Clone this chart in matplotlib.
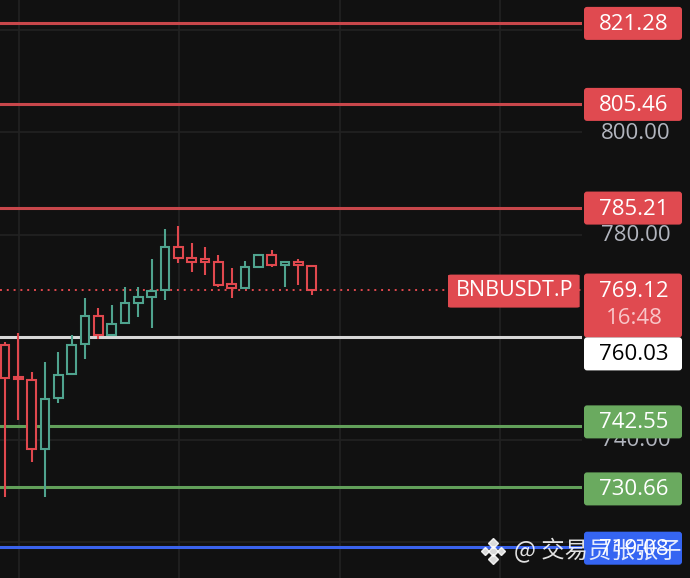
import matplotlib
matplotlib.use('Agg')
import matplotlib.pyplot as plt
from matplotlib.patches import Rectangle, FancyBboxPatch
from matplotlib.transforms import blended_transform_factory

# ---- data ----
opens  = [758.47, 752.20, 751.63, 738.10, 748.06, 752.80, 758.66, 764.19, 760.42, 762.71, 766.73, 767.78,
          769.21, 777.67, 775.52, 775.20, 774.62, 770.38, 769.66, 773.76, 776.05, 774.10, 774.74, 773.90]
highs  = [759.11, 760.75, 753.25, 755.20, 757.04, 760.42, 767.59, 765.63, 766.28, 769.85, 769.85, 775.26,
          781.12, 781.71, 778.33, 777.55, 776.05, 773.45, 774.93, 776.20, 777.02, 774.90, 775.20, 774.10]
lows   = [728.84, 743.82, 735.67, 728.72, 747.08, 752.80, 755.67, 759.64, 760.42, 762.71, 763.99, 761.73,
          767.26, 774.54, 772.78, 772.14, 769.85, 767.59, 769.66, 773.60, 773.76, 769.85, 770.18, 768.23]
closes = [751.96, 751.90, 738.10, 747.92, 752.61, 758.47, 764.19, 760.42, 762.57, 766.61, 767.78, 769.07,
          777.67, 775.40, 774.74, 774.74, 770.18, 769.66, 773.76, 776.05, 774.10, 774.74, 774.10, 769.12]

resist_levels = [821.28, 805.46, 785.21]
pivot_level = 760.03
support_levels = [742.55, 730.66]
low_level = 719.08
last_price = 769.12
countdown = '16:48'
symbol = 'BNBUSDT.P'
axis_ticks = [820, 800, 780, 760, 740, 720]
watermark = '@ 交易员张张子'

# ---- style ----
BG = '#111111'
GRID = '#222222'
UP = '#4fa38e'
DOWN = '#e0484e'
RED_LINE = '#c8474b'
RED_TAG = '#e04a50'
GREEN_LINE = '#62a05a'
GREEN_TAG = '#6aaa5f'
BLUE_LINE = '#3a63ee'
BLUE_TAG = '#3565f2'
FONT = 'Open Sans'

W, H = 690, 578
PX = 5.12                      # pixels per price unit
y_top = 760.03 + 337 / PX
y_bot = 760.03 - (H - 337) / PX
plot_w = 582

fig = plt.figure(figsize=(W / 100, H / 100), dpi=100, facecolor=BG)
ax = fig.add_axes([0, 0, plot_w / W, 1])
ax.set_facecolor(BG)
ax.set_ylim(y_bot, y_top)
step = 13.33
ax.set_xlim(-5 / step, (plot_w - 5) / step)
for s in ax.spines.values():
    s.set_visible(False)
ax.set_xticks([])
ax.set_yticks([])

# grid
for t in axis_ticks:
    ax.axhline(t, color=GRID, lw=1.2, zorder=0)
for gx in [19, 179, 340, 500]:
    ax.axvline((gx - 5) / step, color=GRID, lw=1.2, zorder=0)

# horizontal levels
for lv in resist_levels:
    ax.axhline(lv, color=RED_LINE, lw=2.2, zorder=1)
ax.axhline(pivot_level, color='#d8d8d8', lw=2.2, zorder=1)
for lv in support_levels:
    ax.axhline(lv, color=GREEN_LINE, lw=2.2, zorder=1)
ax.axhline(low_level, color=BLUE_LINE, lw=2.2, zorder=1)
ax.axhline(last_price, color=DOWN, lw=1.4, ls=(0, (1, 2.5)), zorder=1)

# candles (hollow bodies)
bw = 0.66
for i, (o, h, l, c) in enumerate(zip(opens, highs, lows, closes)):
    col = UP if c >= o else DOWN
    top, bot = max(o, c), min(o, c)
    if top - bot < 0.5:
        mid = (top + bot) / 2
        top, bot = mid + 0.25, mid - 0.25
    ax.plot([i, i], [top, h], color=col, lw=1.5, solid_capstyle='butt', zorder=3)
    ax.plot([i, i], [l, bot], color=col, lw=1.5, solid_capstyle='butt', zorder=3)
    ax.add_patch(Rectangle((i - bw / 2, bot), bw, top - bot, facecolor=BG,
                           edgecolor=col, lw=1.5, zorder=4))

# symbol tag on the chart area
tr = blended_transform_factory(ax.transAxes, ax.transData)
sym_x0 = 448 / plot_w
ax.add_patch(FancyBboxPatch((sym_x0, last_price + 3.1 - 6.45), (plot_w - 448) / plot_w - 0.004, 6.45,
                            boxstyle='round,pad=0,rounding_size=0.006', mutation_aspect=30,
                            facecolor=RED_TAG, edgecolor='none', transform=tr, zorder=6, clip_on=False))
ax.text((448 + 67) / plot_w, last_price - 0.1, symbol, transform=tr, color='white', fontsize=15.5,
        family=FONT, ha='center', va='center', zorder=7)

# ---- price scale ----
ps = fig.add_axes([plot_w / W, 0, 1 - plot_w / W, 1])
ps.set_facecolor(BG)
ps.set_xlim(0, W - plot_w)
ps.set_ylim(y_bot, y_top)
ps.axis('off')

for t in axis_ticks:
    if t == 760:
        continue  # fully covered by the last-price / pivot tags
    ps.text(54, t - 0.2, '%.2f' % t, color='#b2b5be', fontsize=16, family=FONT,
            ha='center', va='center', zorder=1)


def tag(yc, txt, fc, tc, h=6.45):
    ps.add_patch(FancyBboxPatch((2, yc - h / 2), 98, h, boxstyle='round,pad=0,rounding_size=3',
                                mutation_aspect=1 / PX, facecolor=fc, edgecolor='none', zorder=5))
    ps.text(52, yc - 0.2, txt, color=tc, fontsize=16, family=FONT, ha='center', va='center', zorder=6)


for lv in resist_levels:
    tag(lv, '%.2f' % lv, RED_TAG, 'white')

# last price + countdown
top2 = last_price + 3.3
bot2 = pivot_level - 0.1
ps.add_patch(FancyBboxPatch((2, bot2), 98, top2 - bot2, boxstyle='round,pad=0,rounding_size=3',
                            mutation_aspect=1 / PX, facecolor=RED_TAG, edgecolor='none', zorder=5))
ps.text(52, last_price - 0.2, '%.2f' % last_price, color='white', fontsize=16, family=FONT,
        ha='center', va='center', zorder=6)
ps.text(52, last_price - 5.5, countdown, color='#f8c6c8', fontsize=16, family=FONT,
        ha='center', va='center', zorder=6)

tag(pivot_level - 3.3, '%.2f' % pivot_level, 'white', 'black')
tag(support_levels[0] + 0.9, '%.2f' % support_levels[0], GREEN_TAG, 'white')
tag(support_levels[1] - 0.3, '%.2f' % support_levels[1], GREEN_TAG, 'white')
tag(low_level - 0.3, '%.2f' % low_level, BLUE_TAG, 'white')

# watermark
fig.text(514 / W, 1 - 551 / H, watermark, color='white', alpha=0.88, fontsize=16.8,
         family=['Noto Sans CJK SC', 'DejaVu Sans'], ha='left', va='center', zorder=20)
lx, ly = 493 / W, 1 - 551 / H
dx, dy = 8 / W, 8 / H
for (ox, oy, ms) in [(0, 0, 5.5), (-dx, 0, 4.5), (dx, 0, 4.5), (0, dy, 5.5), (0, -dy, 5.5)]:
    fig.lines.append(plt.Line2D([lx + ox], [ly + oy], marker='D', markersize=ms, color='white',
                                alpha=0.85, transform=fig.transFigure, zorder=20))

fig.savefig('out.png', dpi=100, facecolor=BG)
